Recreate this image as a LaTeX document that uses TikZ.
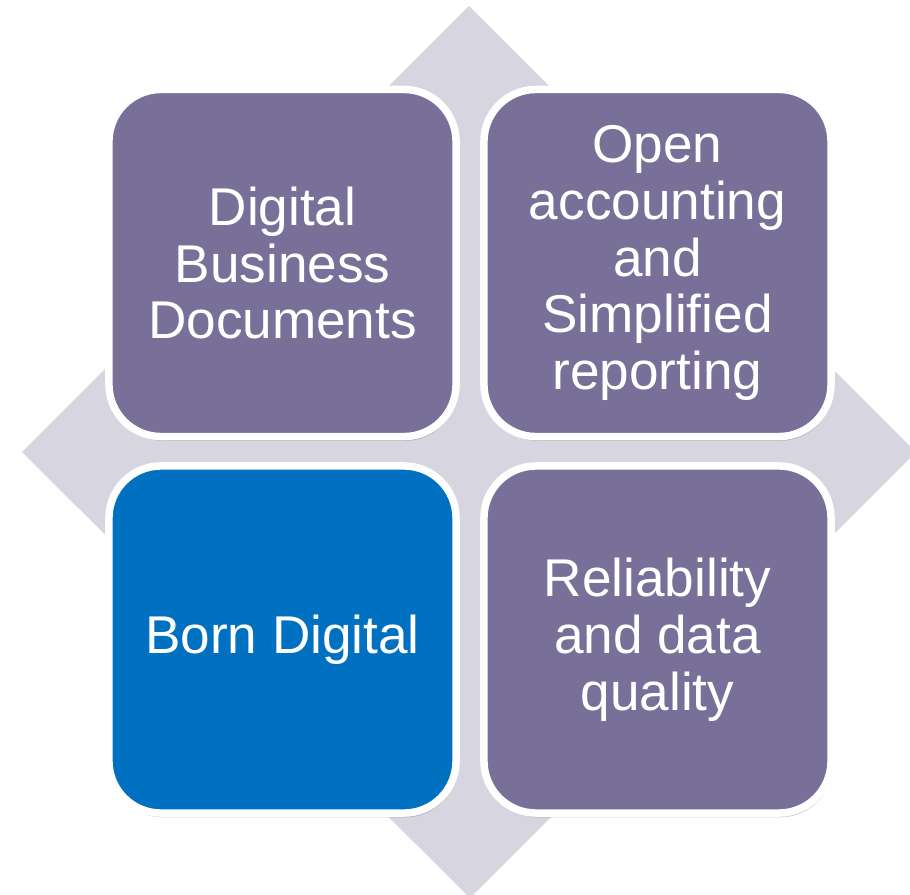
\documentclass[tikz,border=0pt]{standalone}
\usepackage{fontspec}
\setmainfont{Liberation Sans}
\usetikzlibrary{shadows}
\definecolor{qpurple}{RGB}{121,112,153}
\definecolor{qblue}{RGB}{0,112,192}
\definecolor{qgrey}{RGB}{214,213,224}
\tikzstyle{tile} = [draw=white, line width=5.3pt, rounded corners=37pt,
  minimum width=8.675cm, minimum height=8.675cm, align=center, text=white,
  font=\fontsize{37.8}{40.5}\selectfont,
  drop shadow={shadow xshift=1pt, shadow yshift=-3pt, opacity=0.3, fill=black!70}]

\begin{document}
\begin{tikzpicture}[x=0.025cm, y=-0.025cm]
\useasboundingbox (0,0) rectangle (910,895);
% background diamond
\fill[qgrey] (469,6) -- (916,452) -- (470,898) -- (22,452) -- cycle;

% four tiles
\node[tile, fill=qpurple] (docs) at (282.5,263) {Digital\\Business\\Documents};
\node[tile, fill=qpurple] (open) at (657.5,263) {Open\\accounting\\and\\Simplified\\reporting};
\node[tile, fill=qblue] (born) at (282.5,639.5) {Born Digital};
\node[tile, fill=qpurple] (rely) at (657.5,639.5) {Reliability\\and data\\quality};
\end{tikzpicture}
\end{document}
